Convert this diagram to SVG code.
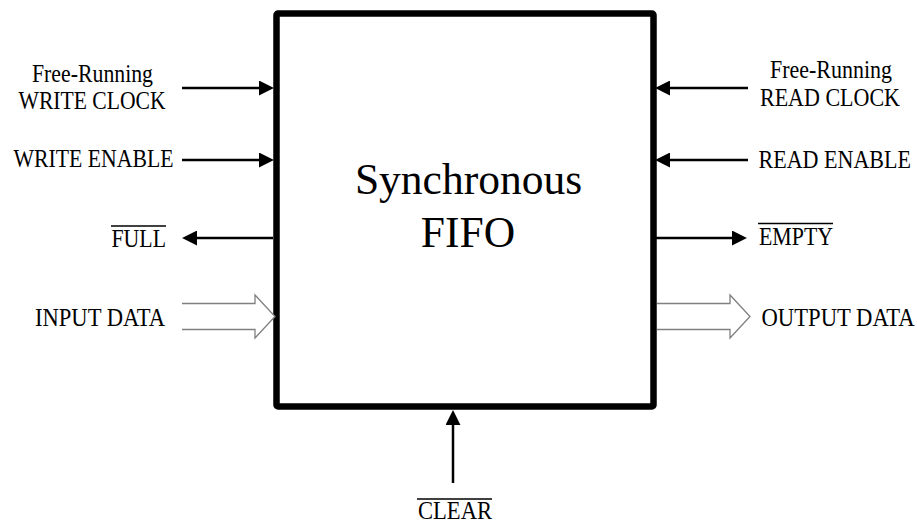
<svg xmlns="http://www.w3.org/2000/svg" width="917" height="522" viewBox="0 0 917 522">
  <defs>
    <style>
      .lbl { font-family: "Liberation Serif", "Times New Roman", serif; font-size: 24.5px; fill: #000; }
      .title { font-family: "Liberation Serif", "Times New Roman", serif; font-size: 43.5px; fill: #000; text-anchor: middle; }
      .wire { stroke: #000; stroke-width: 2.5; fill: none; }
      .bus { stroke: #808080; stroke-width: 1.3; fill: #fff; stroke-linejoin: miter; }
      .bar { stroke: #000; stroke-width: 1.5; }
    </style>
    <marker id="ah" markerUnits="userSpaceOnUse" markerWidth="15" markerHeight="15" viewBox="0 0 14 14" refX="1" refY="7" orient="auto">
      <path d="M0,0 L14,7 L0,14 z" fill="#000"/>
    </marker>
  </defs>

  <g id="fifo">
    <rect x="276.5" y="13.5" width="377" height="393" rx="1.5" fill="#fff" stroke="#000" stroke-width="6.5"/>
    <text class="title" x="468.5" y="194">Synchronous</text>
    <text class="title" x="468" y="247">FIFO</text>
  </g>

  <g id="connectors">
    <line class="wire" x1="182" y1="88" x2="260" y2="88" marker-end="url(#ah)"/>
    <line class="wire" x1="182" y1="160" x2="260" y2="160" marker-end="url(#ah)"/>
    <line class="wire" x1="273" y1="238" x2="196" y2="238" marker-end="url(#ah)"/>
    <path class="bus" d="M182,303.5 H255 V295 L275,316.5 L255,338 V329.5 H182"/>
    <line class="wire" x1="748" y1="88" x2="669" y2="88" marker-end="url(#ah)"/>
    <line class="wire" x1="748" y1="160" x2="669" y2="160" marker-end="url(#ah)"/>
    <line class="wire" x1="656" y1="238" x2="733" y2="238" marker-end="url(#ah)"/>
    <path class="bus" d="M657,303.5 H730 V295 L750,316.5 L730,338 V329.5 H657"/>
    <line class="wire" x1="453" y1="483" x2="453" y2="424" marker-end="url(#ah)"/>
  </g>

  <g id="write-clock">
    <text class="lbl" x="32" y="82" textLength="121" lengthAdjust="spacingAndGlyphs">Free-Running</text>
    <text class="lbl" x="18.5" y="109" textLength="147" lengthAdjust="spacingAndGlyphs">WRITE CLOCK</text>
  </g>
  <g id="write-enable">
    <text class="lbl" x="13.5" y="167" textLength="160" lengthAdjust="spacingAndGlyphs">WRITE ENABLE</text>
  </g>
  <g id="full">
    <line class="bar" x1="111" y1="226" x2="166" y2="226"/>
    <text class="lbl" x="111.5" y="246.5" textLength="54.5" lengthAdjust="spacingAndGlyphs">FULL</text>
  </g>
  <g id="input-data">
    <text class="lbl" x="35" y="326" textLength="130" lengthAdjust="spacingAndGlyphs">INPUT DATA</text>
  </g>

  <g id="read-clock">
    <text class="lbl" x="770" y="78" textLength="122" lengthAdjust="spacingAndGlyphs">Free-Running</text>
    <text class="lbl" x="760" y="105.5" textLength="140" lengthAdjust="spacingAndGlyphs">READ CLOCK</text>
  </g>
  <g id="read-enable">
    <text class="lbl" transform="translate(758.5,168) scale(0.9,1)" x="0" y="0">READ ENABLE</text>
  </g>
  <g id="empty">
    <line class="bar" x1="758" y1="223.5" x2="833" y2="223.5"/>
    <text class="lbl" x="759" y="244.5" textLength="74" lengthAdjust="spacingAndGlyphs">EMPTY</text>
  </g>
  <g id="output-data">
    <text class="lbl" transform="translate(761.5,326) scale(0.925,1)" x="0" y="0">OUTPUT DATA</text>
  </g>

  <g id="clear">
    <line class="bar" x1="417" y1="499" x2="492" y2="499"/>
    <text class="lbl" x="418" y="518.5" textLength="74" lengthAdjust="spacingAndGlyphs">CLEAR</text>
  </g>
</svg>
